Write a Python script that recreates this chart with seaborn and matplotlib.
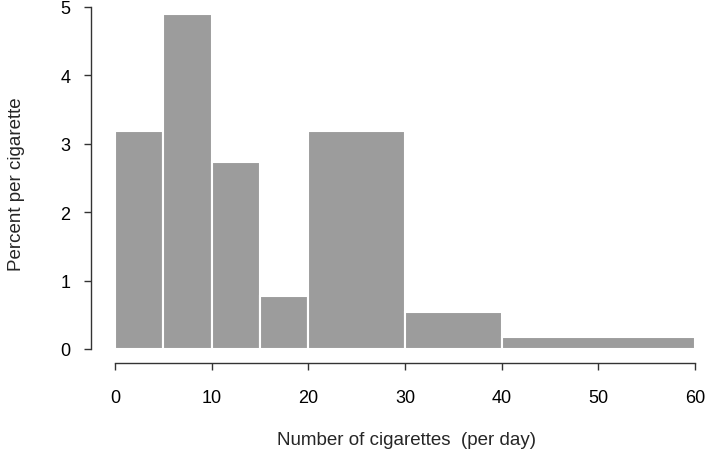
import matplotlib
matplotlib.use("Agg")
import matplotlib.pyplot as plt
import seaborn as sns
import numpy as np

# bin edges (cigarettes per day) and bar heights (percent per cigarette)
bin_edges = [0, 5, 10, 15, 20, 30, 40, 60]
heights = [3.19, 4.90, 2.73, 0.77, 3.19, 0.54, 0.17]
x_ticks = [0, 10, 20, 30, 40, 50, 60]
y_ticks = [0, 1, 2, 3, 4, 5]

sns.set_style("white")
plt.rcParams['font.family'] = ['Liberation Sans', 'DejaVu Sans']

mids = [(a + b) / 2 for a, b in zip(bin_edges[:-1], bin_edges[1:])]

fig = plt.figure(figsize=(7.09, 4.56), dpi=100)
ax = fig.add_axes([115 / 709, 1 - 350 / 456, 580 / 709, 342 / 456])

sns.histplot(x=mids, weights=heights, bins=bin_edges, ax=ax,
             color='#9c9c9c', edgecolor='white', linewidth=1.5, alpha=1)

ax.set_xlim(0, 60)
ax.set_ylim(0, 5)
ax.set_xticks(x_ticks)
ax.set_yticks(y_ticks)

for s in ['top', 'right']:
    ax.spines[s].set_visible(False)
ax.spines['left'].set_position(('outward', 17.3))
ax.spines['bottom'].set_position(('outward', 10))
ax.spines['left'].set_bounds(0, 5)
ax.spines['bottom'].set_bounds(0, 60)
for s in ['left', 'bottom']:
    ax.spines[s].set_color('#333333')
    ax.spines[s].set_linewidth(1)

ax.tick_params(axis='both', which='major', length=5, width=1, color='#333333',
               labelsize=13, labelcolor='black', left=True, bottom=True)
ax.tick_params(axis='x', pad=14)
ax.tick_params(axis='y', pad=10)

ax.set_xlabel("Number of cigarettes  (per day)", fontsize=13.5)
ax.set_ylabel("Percent per cigarette", fontsize=13.5)
ax.xaxis.set_label_coords(0.502, -0.266)
ax.xaxis.label.set_va('center')
ax.yaxis.set_label_coords(-0.169, 0.485)
ax.yaxis.label.set_va('center')
ax.yaxis.label.set_ha('center')

fig.savefig("out.png", dpi=100)
